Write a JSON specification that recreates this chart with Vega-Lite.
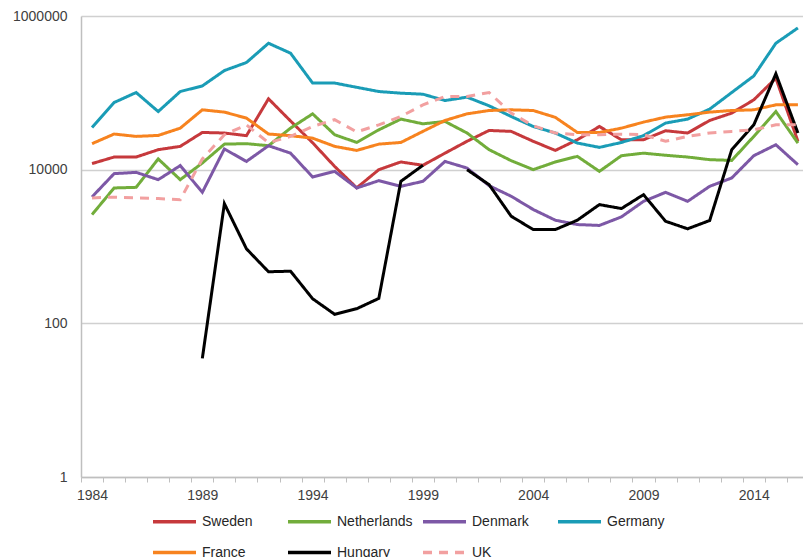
{
  "$schema": "https://vega.github.io/schema/vega-lite/v6.json",
  "autosize": {"type": "none"},
  "padding": {"left": 81, "top": 16, "right": 0, "bottom": 80},
  "width": 722,
  "height": 461,
  "background": "white",
  "config": {
    "font": "Liberation Sans",
    "view": {"stroke": null}
  },
  "datasets": {
    "series": [
      {"country":"Sweden","year":1984,"value":12000},{"country":"Sweden","year":1985,"value":14600},{"country":"Sweden","year":1986,"value":14600},{"country":"Sweden","year":1987,"value":18200},{"country":"Sweden","year":1988,"value":20100},{"country":"Sweden","year":1989,"value":30500},{"country":"Sweden","year":1990,"value":30000},{"country":"Sweden","year":1991,"value":27700},{"country":"Sweden","year":1992,"value":83600},{"country":"Sweden","year":1993,"value":43000},{"country":"Sweden","year":1994,"value":22400},{"country":"Sweden","year":1995,"value":11000},{"country":"Sweden","year":1996,"value":5800},{"country":"Sweden","year":1997,"value":10000},{"country":"Sweden","year":1998,"value":12600},{"country":"Sweden","year":1999,"value":11400},{"country":"Sweden","year":2000,"value":16400},{"country":"Sweden","year":2001,"value":23400},{"country":"Sweden","year":2002,"value":32400},{"country":"Sweden","year":2003,"value":31500},{"country":"Sweden","year":2004,"value":23400},{"country":"Sweden","year":2005,"value":17800},{"country":"Sweden","year":2006,"value":24500},{"country":"Sweden","year":2007,"value":36500},{"country":"Sweden","year":2008,"value":24500},{"country":"Sweden","year":2009,"value":24500},{"country":"Sweden","year":2010,"value":32100},{"country":"Sweden","year":2011,"value":30000},{"country":"Sweden","year":2012,"value":43700},{"country":"Sweden","year":2013,"value":54500},{"country":"Sweden","year":2014,"value":81100},{"country":"Sweden","year":2015,"value":155000},{"country":"Sweden","year":2016,"value":23400},
      {"country":"Netherlands","year":1984,"value":2600},{"country":"Netherlands","year":1985,"value":5780},{"country":"Netherlands","year":1986,"value":5890},{"country":"Netherlands","year":1987,"value":13800},{"country":"Netherlands","year":1988,"value":7410},{"country":"Netherlands","year":1989,"value":12200},{"country":"Netherlands","year":1990,"value":21500},{"country":"Netherlands","year":1991,"value":21800},{"country":"Netherlands","year":1992,"value":20500},{"country":"Netherlands","year":1993,"value":34700},{"country":"Netherlands","year":1994,"value":53300},{"country":"Netherlands","year":1995,"value":28500},{"country":"Netherlands","year":1996,"value":22600},{"country":"Netherlands","year":1997,"value":33000},{"country":"Netherlands","year":1998,"value":45500},{"country":"Netherlands","year":1999,"value":39500},{"country":"Netherlands","year":2000,"value":42400},{"country":"Netherlands","year":2001,"value":30000},{"country":"Netherlands","year":2002,"value":18200},{"country":"Netherlands","year":2003,"value":13100},{"country":"Netherlands","year":2004,"value":10000},{"country":"Netherlands","year":2005,"value":12600},{"country":"Netherlands","year":2006,"value":14900},{"country":"Netherlands","year":2007,"value":9500},{"country":"Netherlands","year":2008,"value":15200},{"country":"Netherlands","year":2009,"value":16400},{"country":"Netherlands","year":2010,"value":15400},{"country":"Netherlands","year":2011,"value":14600},{"country":"Netherlands","year":2012,"value":13500},{"country":"Netherlands","year":2013,"value":13200},{"country":"Netherlands","year":2014,"value":27100},{"country":"Netherlands","year":2015,"value":57100},{"country":"Netherlands","year":2016,"value":22200},
      {"country":"Denmark","year":1984,"value":4420},{"country":"Denmark","year":1985,"value":8870},{"country":"Denmark","year":1986,"value":9230},{"country":"Denmark","year":1987,"value":7410},{"country":"Denmark","year":1988,"value":11300},{"country":"Denmark","year":1989,"value":5070},{"country":"Denmark","year":1990,"value":18600},{"country":"Denmark","year":1991,"value":12800},{"country":"Denmark","year":1992,"value":20500},{"country":"Denmark","year":1993,"value":16400},{"country":"Denmark","year":1994,"value":8030},{"country":"Denmark","year":1995,"value":9500},{"country":"Denmark","year":1996,"value":5780},{"country":"Denmark","year":1997,"value":7190},{"country":"Denmark","year":1998,"value":6070},{"country":"Denmark","year":1999,"value":7050},{"country":"Denmark","year":2000,"value":12800},{"country":"Denmark","year":2001,"value":10500},{"country":"Denmark","year":2002,"value":6190},{"country":"Denmark","year":2003,"value":4510},{"country":"Denmark","year":2004,"value":3030},{"country":"Denmark","year":2005,"value":2200},{"country":"Denmark","year":2006,"value":1930},{"country":"Denmark","year":2007,"value":1880},{"country":"Denmark","year":2008,"value":2430},{"country":"Denmark","year":2009,"value":3870},{"country":"Denmark","year":2010,"value":5070},{"country":"Denmark","year":2011,"value":3870},{"country":"Denmark","year":2012,"value":6070},{"country":"Denmark","year":2013,"value":7800},{"country":"Denmark","year":2014,"value":15200},{"country":"Denmark","year":2015,"value":21100},{"country":"Denmark","year":2016,"value":11600},
      {"country":"Germany","year":1984,"value":35400},{"country":"Germany","year":1985,"value":74800},{"country":"Germany","year":1986,"value":100900},{"country":"Germany","year":1987,"value":57100},{"country":"Germany","year":1988,"value":104000},{"country":"Germany","year":1989,"value":123000},{"country":"Germany","year":1990,"value":195000},{"country":"Germany","year":1991,"value":248000},{"country":"Germany","year":1992,"value":442000},{"country":"Germany","year":1993,"value":328000},{"country":"Germany","year":1994,"value":134000},{"country":"Germany","year":1995,"value":134000},{"country":"Germany","year":1996,"value":118000},{"country":"Germany","year":1997,"value":104000},{"country":"Germany","year":1998,"value":99000},{"country":"Germany","year":1999,"value":96000},{"country":"Germany","year":2000,"value":79400},{"country":"Germany","year":2001,"value":87900},{"country":"Germany","year":2002,"value":67800},{"country":"Germany","year":2003,"value":49200},{"country":"Germany","year":2004,"value":36500},{"country":"Germany","year":2005,"value":30000},{"country":"Germany","year":2006,"value":22200},{"country":"Germany","year":2007,"value":19500},{"country":"Germany","year":2008,"value":22600},{"country":"Germany","year":2009,"value":27700},{"country":"Germany","year":2010,"value":40400},{"country":"Germany","year":2011,"value":45500},{"country":"Germany","year":2012,"value":61400},{"country":"Germany","year":2013,"value":101000},{"country":"Germany","year":2014,"value":166000},{"country":"Germany","year":2015,"value":442000},{"country":"Germany","year":2016,"value":700000},
      {"country":"France","year":1984,"value":21800},{"country":"France","year":1985,"value":29100},{"country":"France","year":1986,"value":27100},{"country":"France","year":1987,"value":27900},{"country":"France","year":1988,"value":34700},{"country":"France","year":1989,"value":60100},{"country":"France","year":1990,"value":56100},{"country":"France","year":1991,"value":46900},{"country":"France","year":1992,"value":29100},{"country":"France","year":1993,"value":27700},{"country":"France","year":1994,"value":25700},{"country":"France","year":1995,"value":20100},{"country":"France","year":1996,"value":17800},{"country":"France","year":1997,"value":21500},{"country":"France","year":1998,"value":22600},{"country":"France","year":1999,"value":31500},{"country":"France","year":2000,"value":43700},{"country":"France","year":2001,"value":53300},{"country":"France","year":2002,"value":58900},{"country":"France","year":2003,"value":60100},{"country":"France","year":2004,"value":58900},{"country":"France","year":2005,"value":48000},{"country":"France","year":2006,"value":30500},{"country":"France","year":2007,"value":30500},{"country":"France","year":2008,"value":34700},{"country":"France","year":2009,"value":41600},{"country":"France","year":2010,"value":48300},{"country":"France","year":2011,"value":51800},{"country":"France","year":2012,"value":56100},{"country":"France","year":2013,"value":58900},{"country":"France","year":2014,"value":60100},{"country":"France","year":2015,"value":69800},{"country":"France","year":2016,"value":69800},
      {"country":"Hungary","year":1989,"value":35},{"country":"Hungary","year":1990,"value":3610},{"country":"Hungary","year":1991,"value":933},{"country":"Hungary","year":1992,"value":469},{"country":"Hungary","year":1993,"value":477},{"country":"Hungary","year":1994,"value":209},{"country":"Hungary","year":1995,"value":131},{"country":"Hungary","year":1996,"value":155},{"country":"Hungary","year":1997,"value":211},{"country":"Hungary","year":1998,"value":7050},{"country":"Hungary","year":1999,"value":11400},{"country":"Hungary","year":2000,"value":null},{"country":"Hungary","year":2001,"value":10000},{"country":"Hungary","year":2002,"value":6380},{"country":"Hungary","year":2003,"value":2480},{"country":"Hungary","year":2004,"value":1660},{"country":"Hungary","year":2005,"value":1660},{"country":"Hungary","year":2006,"value":2200},{"country":"Hungary","year":2007,"value":3510},{"country":"Hungary","year":2008,"value":3120},{"country":"Hungary","year":2009,"value":4730},{"country":"Hungary","year":2010,"value":2130},{"country":"Hungary","year":2011,"value":1700},{"country":"Hungary","year":2012,"value":2180},{"country":"Hungary","year":2013,"value":18200},{"country":"Hungary","year":2014,"value":38300},{"country":"Hungary","year":2015,"value":177000},{"country":"Hungary","year":2016,"value":30000},
      {"country":"UK","year":1984,"value":4290},{"country":"UK","year":1985,"value":4390},{"country":"UK","year":1986,"value":4290},{"country":"UK","year":1987,"value":4200},{"country":"UK","year":1988,"value":4070},{"country":"UK","year":1989,"value":13800},{"country":"UK","year":1990,"value":28500},{"country":"UK","year":1991,"value":38300},{"country":"UK","year":1992,"value":22400},{"country":"UK","year":1993,"value":27100},{"country":"UK","year":1994,"value":36500},{"country":"UK","year":1995,"value":44800},{"country":"UK","year":1996,"value":31000},{"country":"UK","year":1997,"value":38300},{"country":"UK","year":1998,"value":49200},{"country":"UK","year":1999,"value":69800},{"country":"UK","year":2000,"value":89500},{"country":"UK","year":2001,"value":89500},{"country":"UK","year":2002,"value":101000},{"country":"UK","year":2003,"value":54500},{"country":"UK","year":2004,"value":37300},{"country":"UK","year":2005,"value":30000},{"country":"UK","year":2006,"value":28500},{"country":"UK","year":2007,"value":28500},{"country":"UK","year":2008,"value":29000},{"country":"UK","year":2009,"value":28500},{"country":"UK","year":2010,"value":23400},{"country":"UK","year":2011,"value":27100},{"country":"UK","year":2012,"value":30000},{"country":"UK","year":2013,"value":31500},{"country":"UK","year":2014,"value":33000},{"country":"UK","year":2015,"value":38300},{"country":"UK","year":2016,"value":38300}
    ]
  },
  "data": {"name": "series"},
  "mark": {"type": "line", "strokeWidth": 3, "clip": true, "invalid": "break-paths-filter-domains"},
  "encoding": {
    "x": {
      "field": "year",
      "type": "quantitative",
      "scale": {"domain": [1983.5, 2016.23], "nice": false, "zero": false},
      "axis": {
        "title": null,
        "values": [1983.5,1984.5,1985.5,1986.5,1987.5,1988.5,1989.5,1990.5,1991.5,1992.5,1993.5,1994.5,1995.5,1996.5,1997.5,1998.5,1999.5,2000.5,2001.5,2002.5,2003.5,2004.5,2005.5,2006.5,2007.5,2008.5,2009.5,2010.5,2011.5,2012.5,2013.5,2014.5,2015.5],
        "labelExpr": "(datum.value - 1983.5) % 5 == 0 ? toString(datum.value + 0.5) : ''",
        "labelOffset": 11,
        "labelFlush": false,
        "labelOverlap": false,
        "grid": false,
        "domainColor": "#bfbfbf",
        "domainWidth": 1.5,
        "tickColor": "#bfbfbf",
        "tickSize": 5,
        "labelPadding": 6,
        "labelFontSize": 14,
        "labelColor": "#404040"
      }
    },
    "y": {
      "field": "value",
      "type": "quantitative",
      "scale": {"type": "log", "domain": [1, 1000000], "nice": false},
      "axis": {
        "title": null,
        "values": [1, 100, 10000, 1000000],
        "format": "d",
        "grid": true,
        "gridColor": "#d0d0d0",
        "gridWidth": 1.5,
        "ticks": false,
        "domainColor": "#bfbfbf",
        "domainWidth": 1.5,
        "labelPadding": 14,
        "labelFontSize": 14,
        "labelColor": "#404040"
      }
    },
    "color": {
      "field": "country",
      "type": "nominal",
      "scale": {
        "domain": ["Sweden","Netherlands","Denmark","Germany","France","Hungary","UK"],
        "range": ["#C6393C","#72AD3B","#7D58A6","#1A9CB6","#F7831F","#000000","#F2A0A0"]
      },
      "legend": {
        "title": null,
        "orient": "none",
        "legendX": 70,
        "legendY": 482,
        "direction": "horizontal",
        "columns": 4,
        "gridAlign": "all",
        "symbolType": "stroke",
        "symbolSize": 1849,
        "symbolStrokeWidth": 3.5,
        "labelFontSize": 14,
        "labelColor": "#262626",
        "labelOffset": 4,
        "columnPadding": 3,
        "rowPadding": -17
      }
    },
    "strokeDash": {
      "field": "country",
      "type": "nominal",
      "scale": {
        "domain": ["Sweden","Netherlands","Denmark","Germany","France","Hungary","UK"],
        "range": [[1,0],[1,0],[1,0],[1,0],[1,0],[1,0],[9,7]]
      },
      "legend": null
    }
  }
}
